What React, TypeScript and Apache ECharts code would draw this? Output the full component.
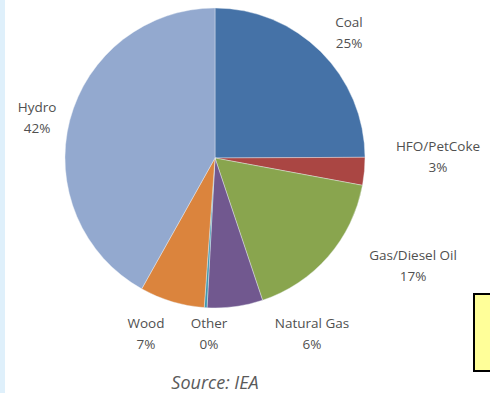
import React, { useEffect, useRef } from "react";
import * as echarts from "echarts";

// Electricity generation shares by fuel (percent)
const fuels = ["Coal", "HFO/PetCoke", "Gas/Diesel Oil", "Natural Gas", "Other", "Wood", "Hydro"];
const shares = [25, 3, 17, 6, 0.3, 7, 42];
const sliceColors = ["#4572a7", "#aa4643", "#89a54e", "#71588f", "#4198af", "#db843d", "#93a9cf"];
const sourceNote = "Source: IEA";

// Label anchor points (centre of each two-line label)
const labelAnchors: Record<string, [number, number]> = {
  "Coal": [349, 32],
  "HFO/PetCoke": [438, 156],
  "Gas/Diesel Oil": [413, 265],
  "Natural Gas": [312, 333],
  "Other": [209, 333],
  "Wood": [146, 333],
  "Hydro": [37, 117],
};

export default function App() {
  const ref = useRef<HTMLDivElement>(null);

  useEffect(() => {
    if (!ref.current) return;
    const chart = echarts.init(ref.current, null, { renderer: "svg" });
    chart.setOption({
      animation: false,
      backgroundColor: "#ffffff",
      graphic: [
        {
          type: "rect",
          left: 0,
          top: 0,
          shape: { width: 5, height: 393 },
          style: { fill: "#dff0fb" },
        },
        {
          type: "rect",
          left: 473,
          top: 293,
          shape: { width: 20, height: 77 },
          style: { fill: "#ffff99", stroke: "#000000", lineWidth: 2 },
        },
        {
          type: "text",
          x: 215,
          y: 382,
          style: {
            text: sourceNote,
            fill: "#5a5a5a",
            font: "italic 18px 'Open Sans', sans-serif",
            align: "center",
            verticalAlign: "middle",
          },
        },
      ],
      series: [
        {
          type: "pie",
          center: [215, 158],
          radius: 150,
          startAngle: 90,
          clockwise: true,
          silent: true,
          avoidLabelOverlap: false,
          itemStyle: { borderColor: "#eef2f8", borderWidth: 0.4 },
          label: {
            show: true,
            position: "outside",
            formatter: (p: any) => `${p.name}\n${Math.round(p.value)}%`,
            fontFamily: "'Open Sans', sans-serif",
            fontSize: 13.5,
            lineHeight: 21,
            color: "#505050",
            align: "center",
          },
          labelLine: { show: false },
          labelLayout: (params: any) => {
            const name = fuels[params.dataIndex];
            const a = labelAnchors[name];
            return { x: a[0], y: a[1], align: "center", verticalAlign: "middle" };
          },
          data: fuels.map((f, i) => ({
            name: f,
            value: shares[i],
            itemStyle: { color: sliceColors[i] },
          })),
        },
      ],
    });
    return () => chart.dispose();
  }, []);

  return (
    <div
      ref={ref}
      style={{ position: "absolute", left: 0, top: 0, width: 490, height: 393 }}
    />
  );
}
